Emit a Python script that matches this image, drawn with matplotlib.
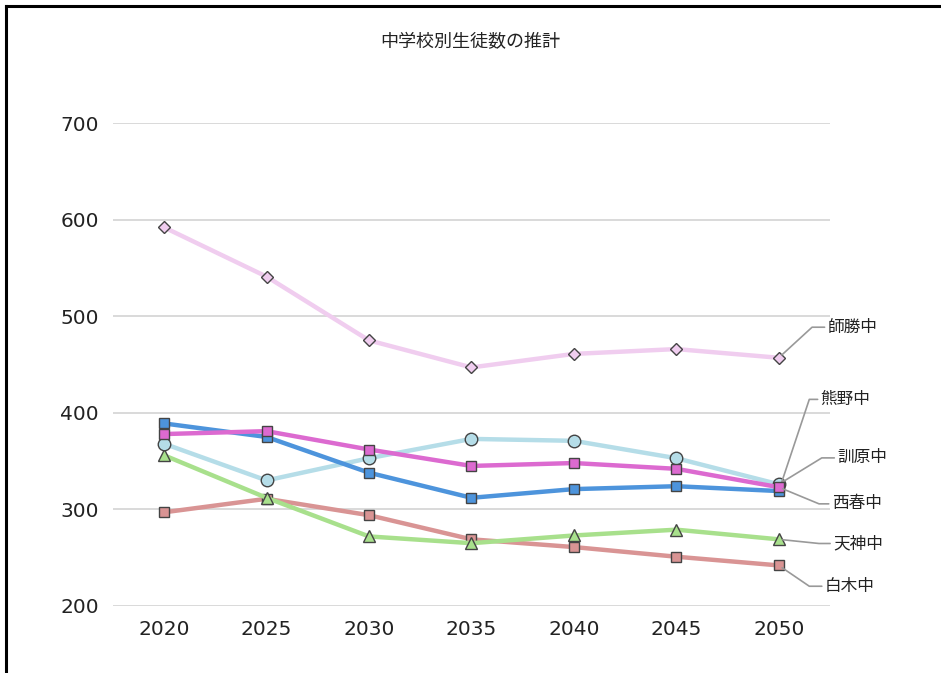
import numpy as np
import matplotlib
matplotlib.use("Agg")
import matplotlib.pyplot as plt
from matplotlib.lines import Line2D

plt.rcParams['font.family'] = ['Noto Sans CJK JP', 'DejaVu Sans']

years = [2020, 2025, 2030, 2035, 2040, 2045, 2050]

shikatsu = [592, 541, 475, 447, 461, 466, 457]
kumano = [389, 375, 338, 312, 321, 324, 319]
nishiharu = [378, 381, 362, 345, 348, 342, 323]
kunbara = [368, 330, 353, 373, 371, 353, 326]
tenjin = [356, 312, 272, 265, 273, 279, 269]
shiraki = [297, 311, 294, 269, 261, 251, 242]

names = ['師勝中', '熊野中', '訓原中', '西春中', '天神中', '白木中']
y_ticks = [200, 300, 400, 500, 600, 700]

# draw order, style and label offsets (points) for each school
series = [
    # name, values, colour, marker, marker size, label offset, elbow offset
    ('白木中', shiraki, '#d99494', 's', 7.5, (33, -15), (22, -15)),
    ('天神中', tenjin, '#a8e08c', '^', 9, (39, -3), (29, -3)),
    ('訓原中', kunbara, '#b5dde8', 'o', 9, (42, 19), (31, 19)),
    ('熊野中', kumano, '#4d94dc', 's', 7.5, (30, 66), (22, 66)),
    ('西春中', nishiharu, '#dc6ad0', 's', 7.5, (38, -12), (29, -12)),
    ('師勝中', shikatsu, '#f0cdef', 'D', 6.5, (35, 22), (24, 22)),
]

fig = plt.figure(figsize=(9.41, 6.73), dpi=100)
ax = fig.add_axes([0.120, 0.0996, 0.762, 0.7175])

for name, vals, color, marker, ms, txt_off, elbow in series:
    ax.plot(years, vals, color=color, lw=3.2, marker=marker, ms=ms,
            markerfacecolor=color, markeredgecolor='#444444', markeredgewidth=1,
            zorder=3, clip_on=False)

    # connector: last point -> elbow -> text
    x_last, y_last = years[-1], vals[-1]
    ax.annotate(name, xy=(x_last, y_last), xytext=txt_off,
                textcoords='offset points', ha='left', va='center',
                fontsize=12, color='#222222', annotation_clip=False,
                arrowprops=dict(arrowstyle='-', color='#999999', lw=1.2,
                                shrinkA=0, shrinkB=3,
                                connectionstyle='angle,angleA=0,angleB=%f,rad=0'
                                % np.degrees(np.arctan2(elbow[1], elbow[0]))))

ax.set_xlim(2017.5, 2052.5)
ax.set_ylim(200, 700)
ax.set_xticks(years)
ax.set_yticks(y_ticks)
ax.set_xticklabels([str(y) for y in years], fontfamily='DejaVu Sans')
ax.set_yticklabels([str(v) for v in y_ticks], fontfamily='DejaVu Sans')
ax.tick_params(length=0, labelsize=14.5, labelcolor='#222222')
ax.tick_params(axis='x', pad=10)
ax.tick_params(axis='y', pad=10)
ax.grid(axis='y', color='#d9d9d9', lw=1.4)
ax.set_axisbelow(True)
for s in ax.spines.values():
    s.set_visible(False)

fig.text(0.5, 0.938, '中学校別生徒数の推計', ha='center', va='center',
         fontsize=13, color='#222222')

# outer frame on top and left edges
fig.add_artist(Line2D([0.0069, 0.0069], [0, 0.9905], transform=fig.transFigure,
                      color='black', lw=2.2))
fig.add_artist(Line2D([0.0069, 1.0], [0.9905, 0.9905], transform=fig.transFigure,
                      color='black', lw=2.2))

fig.savefig('out.png', dpi=100, facecolor='white')
